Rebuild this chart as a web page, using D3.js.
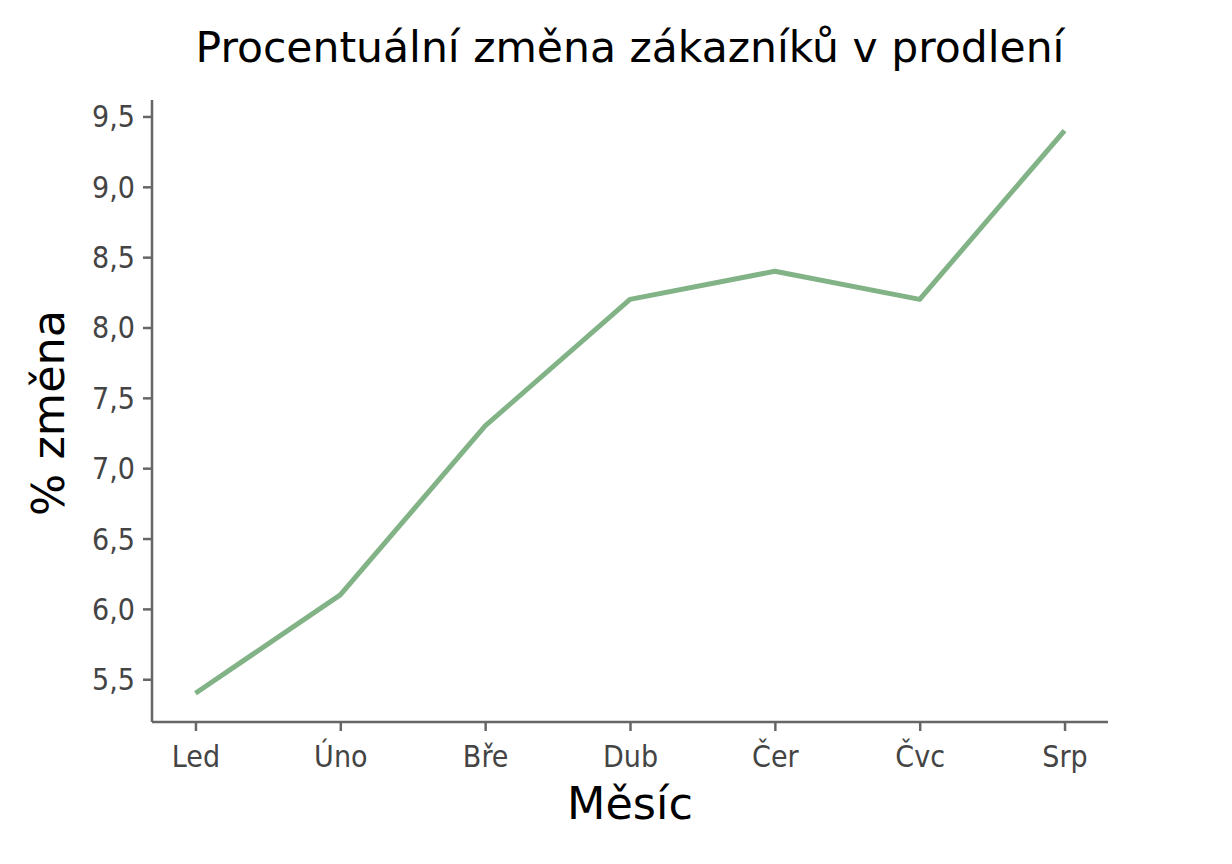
<!DOCTYPE html>
<html>
<head>
<meta charset="utf-8">
<script src="https://cdn.jsdelivr.net/npm/d3@7.9.0/dist/d3.min.js"></script>
<style>
  body { margin: 0; background: #fff; }
  svg { display: block; }
  .tick text { font-family: "DejaVu Sans Condensed", "DejaVu Sans", sans-serif; font-size: 30px; fill: #444; }
</style>
</head>
<body>
<svg id="chart" width="1232" height="864"></svg>
<script>
const months = ['Led', 'Úno', 'Bře', 'Dub', 'Čer', 'Čvc', 'Srp'];
const changes = [5.4, 6.1, 7.3, 8.2, 8.4, 8.2, 9.4];
const yTicks = [5.5, 6.0, 6.5, 7.0, 7.5, 8.0, 8.5, 9.0, 9.5];

const svg = d3.select('#chart');
const plotLeft = 152, plotRight = 1108, plotTop = 100, plotBottom = 722;

// points sit inset from the spines, like a padded point scale
let x = d3.scalePoint()
  .domain(months)
  .range([plotLeft, plotRight])
  .padding(0.3);

let y = d3.scaleLinear()
  .domain([5.196, 9.617])
  .range([plotBottom, plotTop]);

let fmt = (d) => d.toFixed(1).replace('.', ',');

let xAxis = svg.append('g')
  .attr('transform', `translate(0,${plotBottom})`)
  .call(d3.axisBottom(x).tickSize(9).tickPadding(10));

let yAxis = svg.append('g')
  .attr('transform', `translate(${plotLeft},0)`)
  .call(d3.axisLeft(y).tickValues(yTicks).tickFormat(fmt).tickSize(9).tickPadding(8));

[xAxis, yAxis].forEach((ax) => {
  ax.select('.domain').attr('stroke', '#666').attr('stroke-width', 2.5);
  ax.selectAll('.tick line').attr('stroke', '#666').attr('stroke-width', 2.5);
});
xAxis.select('.domain').attr('d', `M${plotLeft},0H${plotRight}`);
yAxis.select('.domain').attr('d', `M0,${plotTop}V${plotBottom}`);
xAxis.selectAll('.tick text').attr('dy', '0.85em');
yAxis.selectAll('.tick text').attr('dy', '0.35em');

let line = d3.line()
  .x((d, i) => x(months[i]))
  .y((d) => y(d));

svg.append('path')
  .datum(changes)
  .attr('d', line)
  .attr('fill', 'none')
  .attr('stroke', '#82b387')
  .attr('stroke-width', 5)
  .attr('stroke-linejoin', 'round');

svg.append('text')
  .attr('x', 630)
  .attr('y', 62)
  .attr('text-anchor', 'middle')
  .attr('font-family', 'DejaVu Sans, sans-serif')
  .attr('font-size', 42.5)
  .text('Procentuální změna zákazníků v prodlení');

svg.append('text')
  .attr('x', 630)
  .attr('y', 819)
  .attr('text-anchor', 'middle')
  .attr('font-family', 'DejaVu Sans, sans-serif')
  .attr('font-size', 44.5)
  .text('Měsíc');

svg.append('text')
  .attr('transform', 'translate(64,413) rotate(-90)')
  .attr('text-anchor', 'middle')
  .attr('font-family', 'DejaVu Sans, sans-serif')
  .attr('font-size', 44.5)
  .text('% změna');
</script>
</body>
</html>
